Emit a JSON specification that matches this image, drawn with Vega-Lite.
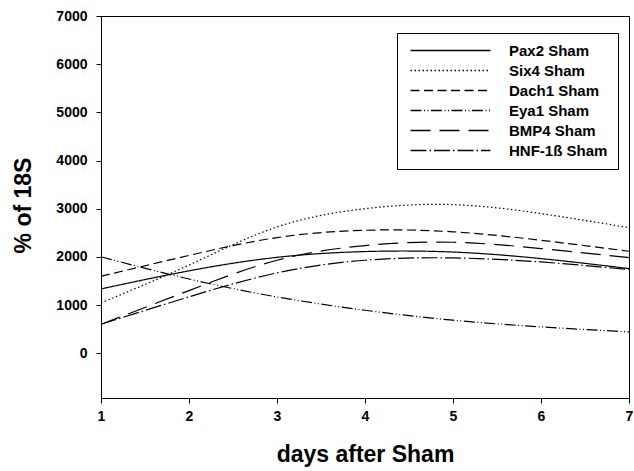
{
  "$schema": "https://vega.github.io/schema/vega-lite/v6.json",
  "width": 528,
  "height": 382,
  "autosize": {"type": "none"},
  "padding": {"left": 101, "top": 16, "right": 5, "bottom": 73},
  "background": "white",
  "config": {
    "view": {"stroke": "black", "strokeWidth": 1},
    "font": "Liberation Sans",
    "axis": {
      "grid": false,
      "domainColor": "black",
      "tickColor": "black",
      "labelColor": "black",
      "titleColor": "black",
      "labelFont": "Liberation Sans",
      "labelFontWeight": "bold",
      "labelFontSize": 14,
      "titleFont": "Liberation Sans",
      "titleFontWeight": "bold",
      "tickSize": 5
    }
  },
  "data": {
    "values": [
      {"gene": "Pax2 Sham", "day": 1, "value": 1335},
      {"gene": "Pax2 Sham", "day": 2, "value": 1710},
      {"gene": "Pax2 Sham", "day": 3, "value": 1990},
      {"gene": "Pax2 Sham", "day": 4, "value": 2110},
      {"gene": "Pax2 Sham", "day": 5, "value": 2100},
      {"gene": "Pax2 Sham", "day": 6, "value": 1964},
      {"gene": "Pax2 Sham", "day": 7, "value": 1757},
      {"gene": "Six4 Sham", "day": 1, "value": 1045},
      {"gene": "Six4 Sham", "day": 2, "value": 1830},
      {"gene": "Six4 Sham", "day": 3, "value": 2620},
      {"gene": "Six4 Sham", "day": 4, "value": 3000},
      {"gene": "Six4 Sham", "day": 5, "value": 3085},
      {"gene": "Six4 Sham", "day": 6, "value": 2898},
      {"gene": "Six4 Sham", "day": 7, "value": 2607},
      {"gene": "Dach1 Sham", "day": 1, "value": 1597},
      {"gene": "Dach1 Sham", "day": 2, "value": 2030},
      {"gene": "Dach1 Sham", "day": 3, "value": 2400},
      {"gene": "Dach1 Sham", "day": 4, "value": 2552},
      {"gene": "Dach1 Sham", "day": 5, "value": 2520},
      {"gene": "Dach1 Sham", "day": 6, "value": 2344},
      {"gene": "Dach1 Sham", "day": 7, "value": 2116},
      {"gene": "Eya1 Sham", "day": 1, "value": 2000},
      {"gene": "Eya1 Sham", "day": 2, "value": 1540},
      {"gene": "Eya1 Sham", "day": 3, "value": 1168},
      {"gene": "Eya1 Sham", "day": 4, "value": 892},
      {"gene": "Eya1 Sham", "day": 5, "value": 685},
      {"gene": "Eya1 Sham", "day": 6, "value": 546},
      {"gene": "Eya1 Sham", "day": 7, "value": 442},
      {"gene": "BMP4 Sham", "day": 1, "value": 600},
      {"gene": "BMP4 Sham", "day": 2, "value": 1300},
      {"gene": "BMP4 Sham", "day": 3, "value": 1930},
      {"gene": "BMP4 Sham", "day": 4, "value": 2234},
      {"gene": "BMP4 Sham", "day": 5, "value": 2303},
      {"gene": "BMP4 Sham", "day": 6, "value": 2172},
      {"gene": "BMP4 Sham", "day": 7, "value": 1985},
      {"gene": "HNF-1ß Sham", "day": 1, "value": 600},
      {"gene": "HNF-1ß Sham", "day": 2, "value": 1170},
      {"gene": "HNF-1ß Sham", "day": 3, "value": 1667},
      {"gene": "HNF-1ß Sham", "day": 4, "value": 1930},
      {"gene": "HNF-1ß Sham", "day": 5, "value": 1978},
      {"gene": "HNF-1ß Sham", "day": 6, "value": 1894},
      {"gene": "HNF-1ß Sham", "day": 7, "value": 1736}
    ]
  },
  "mark": {"type": "line", "interpolate": "natural", "color": "black", "strokeWidth": 1.2, "clip": true},
  "encoding": {
    "x": {
      "field": "day",
      "type": "quantitative",
      "scale": {"domain": [1, 7], "nice": false, "zero": false},
      "axis": {
        "values": [1, 2, 3, 4, 5, 6, 7],
        "title": "days after Sham",
        "titleFontSize": 23,
        "titlePadding": 20,
        "labelPadding": 6,
        "labelFlush": false
      }
    },
    "y": {
      "field": "value",
      "type": "quantitative",
      "scale": {"domain": [-930, 7000], "nice": false, "zero": false},
      "axis": {
        "values": [0, 1000, 2000, 3000, 4000, 5000, 6000, 7000],
        "format": "d",
        "title": "% of 18S",
        "titleFontSize": 23,
        "titleX": -78,
        "titleY": 189,
        "titleAngle": -90,
        "titleAlign": "center",
        "titleBaseline": "middle",
        "labelPadding": 9
      }
    },
    "strokeDash": {
      "field": "gene",
      "type": "nominal",
      "scale": {
        "domain": ["Pax2 Sham", "Six4 Sham", "Dach1 Sham", "Eya1 Sham", "BMP4 Sham", "HNF-1ß Sham"],
        "range": [[1, 0], [1.5, 2.5], [9, 4.5], [11, 2.5, 1, 2.5, 1, 2.5], [20, 9], [16, 3, 1.5, 3]]
      },
      "legend": {
        "orient": "none",
        "legendX": 296,
        "legendY": 17,
        "title": null,
        "symbolType": "M-8,0H8",
        "symbolSize": 100,
        "symbolOffset": 36,
        "symbolStrokeWidth": 1.3,
        "symbolStrokeColor": "black",
        "labelFont": "Liberation Sans",
        "labelFontWeight": "bold",
        "labelFontSize": 15,
        "labelColor": "black",
        "labelOffset": 51,
        "strokeColor": "black",
        "fillColor": "white",
        "padding": 10,
        "rowPadding": 4
      }
    }
  }
}
